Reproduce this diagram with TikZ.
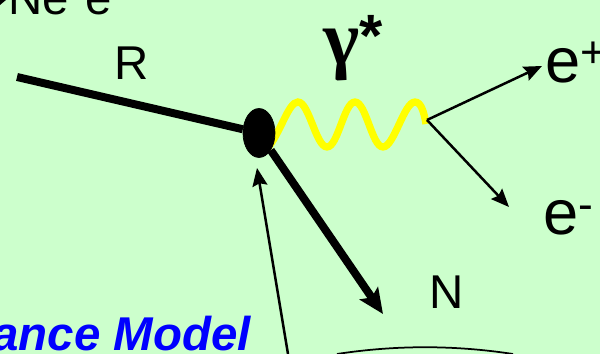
\documentclass[tikz,border=0pt]{standalone}
\usepackage{fontspec}
\setmainfont{Liberation Sans}
\newfontfamily\gammafont{Liberation Serif}
\usetikzlibrary{shapes.geometric, arrows.meta, positioning, calc}
\definecolor{slidegreen}{HTML}{CCFFCC}
\definecolor{photonyellow}{HTML}{FFFF00}
\definecolor{titleblue}{HTML}{0000FF}

\begin{document}
\begin{tikzpicture}[
    x=0.02cm, y=-0.02cm,
    every node/.style={inner sep=0pt, text=black},
    particle/.style={anchor=base west, font=\fontsize{27}{27}\selectfont},
    lepton/.style={anchor=base west, font=\fontsize{36}{36}\selectfont},
    blob/.style={draw=black, fill=black, ellipse, minimum width=0.64cm, minimum height=0.98cm},
    heavy/.style={black, line width=0.16cm},
    heavyarrow/.style={heavy, -{Stealth[length=0.5cm, width=0.44cm, inset=0.1cm]}},
    thinarrow/.style={black, line width=0.05cm, -{Stealth[length=0.36cm, width=0.3cm, inset=0.05cm]}},
    photon/.style={photonyellow, line width=0.145cm}
]
    \useasboundingbox (0,0) rectangle (600,354);
    \clip (0,0) rectangle (600,354);
    \fill[slidegreen] (0,0) rectangle (600,354);

    \coordinate (rstart) at (17,77);
    \coordinate (ntip) at (383,314);
    \coordinate (split) at (427,120);
    \coordinate (pstart) at (288,354);
    \coordinate (ptip) at (257,168);
    \coordinate (etop) at (542,66);
    \coordinate (ebot) at (509,207);
    \coordinate (arcleft) at (337,354);
    \coordinate (arcright) at (513,354);
    \coordinate (wavestart) at (266,150);
    \coordinate (waveend) at (426,124);

    % photon line goes under the blob
    \draw[photon] (wavestart) .. controls (280,135) and (288,102) .. (298,102)
        .. controls (309,102) and (316,147) .. (327,147)
        .. controls (338,147) and (344,102) .. (355,102)
        .. controls (366,102) and (372,147) .. (383,147)
        .. controls (394,147) and (404,102) .. (415,102)
        .. controls (421,102) and (424,112) .. (waveend);
    \node[blob] (vertex) at (259,133) {};

    \node[particle] (rlabel) at (114,80) {R};
    \node[particle] (nlabel) at (429,309) {N};
    \node[anchor=base west, font=\fontsize{44}{44}\selectfont\bfseries\gammafont] (gam) at (323,65) {γ\raisebox{5pt}{\rmfamily\fontsize{34}{34}\selectfont *}};
    \node[lepton] (eplus) at (545,83) {e\textsuperscript{+}};
    \node[lepton] (eminus) at (543,235) {e\textsuperscript{-}};
    \node[particle] (reaction) at (8,15) {Ne\hspace{0.35em}e};
    \node[anchor=base east, font=\fontsize{27}{27}\selectfont\bfseries\itshape, text=titleblue] (model) at (251,351) {ance Model};

    \fill[black] (0,0) -- (6,0) -- (0,5) -- cycle;

    \draw[heavy] (rstart) -- (vertex);
    \draw[heavyarrow] (vertex) -- (ntip);
    \draw[thinarrow] (pstart) -- (ptip);
    \draw[thinarrow] (split) -- (etop);
    \draw[thinarrow] (split) -- (ebot);
    \draw[black, line width=0.035cm] (arcleft) .. controls (396,345) and (454,345) .. (arcright);
\end{tikzpicture}
\end{document}
